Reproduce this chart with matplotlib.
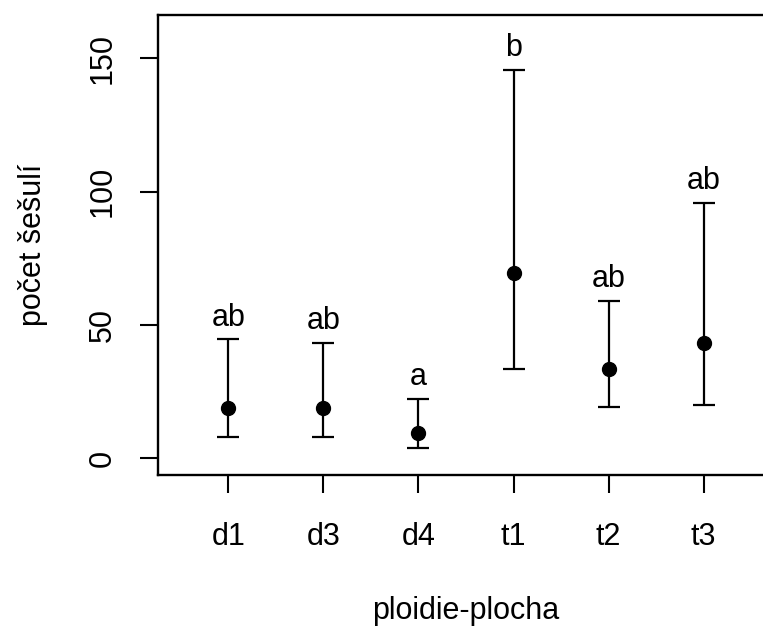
import matplotlib
matplotlib.use("Agg")
import matplotlib.pyplot as plt

plt.rcParams["font.family"] = ["Liberation Sans", "DejaVu Sans"]

# data
groups = ["d1", "d3", "d4", "t1", "t2", "t3"]
means = [18.8, 18.8, 9.2, 69.5, 33.3, 43.0]
lower = [7.9, 7.9, 3.9, 33.4, 19.0, 19.7]
upper = [44.5, 43.3, 22.1, 145.5, 58.8, 95.8]
letters = ["ab", "ab", "a", "b", "ab", "ab"]
y_ticks = [0, 50, 100, 150]

W, H = 763, 628
FS = 22
fig = plt.figure(figsize=(W / 100, H / 100), dpi=100)
# right edge of the box runs past the image edge, as in the reference
left, right, top, bottom = 158, 774, 14.7, 475
ax = fig.add_axes([left / W, 1 - bottom / H, (right - left) / W, (bottom - top) / H])

x = list(range(1, len(groups) + 1))
err = [[m - lo for m, lo in zip(means, lower)], [up - m for m, up in zip(means, upper)]]
ax.errorbar(x, means, yerr=err, fmt="o", color="black", ms=10, capsize=8,
            elinewidth=1.6, capthick=1.6)

for xi, up, lab in zip(x, upper, letters):
    ax.annotate(lab, (xi, up), xytext=(0, 10), textcoords="offset points",
                ha="center", va="baseline", fontsize=FS)

ax.set_xlim(0.26, 6.74)
ax.set_ylim(-6.4, 166.4)
ax.set_xticks(x)
ax.set_xticklabels(groups)
ax.set_yticks(y_ticks)
ax.tick_params(axis="both", length=13, width=1.5, labelsize=FS)
ax.tick_params(axis="x", pad=21)
ax.tick_params(axis="y", pad=16, labelrotation=90)
for t in ax.get_yticklabels():
    t.set_va("center")
for s in ax.spines.values():
    s.set_linewidth(1.7)

ax.set_xlabel("ploidie-plocha", fontsize=FS, va="baseline")
ax.xaxis.set_label_coords(0.5, -(619 - bottom) / (bottom - top))
ax.set_ylabel("počet šešulí", fontsize=FS, va="center")
ax.yaxis.set_label_coords(-(left - 33) / (right - left), 0.5)

fig.savefig("out.png", dpi=100)
